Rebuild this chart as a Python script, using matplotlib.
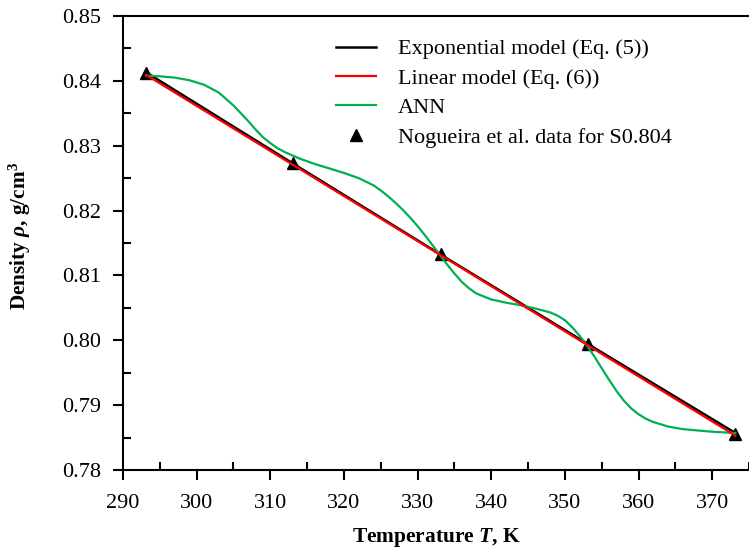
import matplotlib
matplotlib.use("Agg")
import matplotlib.pyplot as plt
from matplotlib.ticker import MultipleLocator, FormatStrFormatter

plt.rcParams['font.family'] = ['Liberation Serif', 'DejaVu Serif']
plt.rcParams['mathtext.fontset'] = 'custom'
plt.rcParams['mathtext.rm'] = 'Liberation Serif:bold'
plt.rcParams['mathtext.it'] = 'Liberation Serif:italic:bold'
plt.rcParams['mathtext.bf'] = 'Liberation Serif:bold'

# Data
temps = [293.15, 313.15, 333.15, 353.15, 373.15]
nogueira = [0.8412, 0.8273, 0.8133, 0.7995, 0.7856]
exp_model = [0.8413, 0.8272, 0.8132, 0.7994, 0.7857]
lin_T = [293.15, 373.15]
lin_model = [0.8409, 0.7853]
ann_T = [293.15, 295, 297, 299, 301, 303, 305, 307, 308, 309, 310, 311, 312,
         313, 314, 316, 318, 320, 322, 324, 325, 326, 327, 328, 329, 330, 331,
         332, 333, 334, 335, 336, 337, 338, 340, 342, 344, 346, 348, 349, 350,
         351, 352, 353, 354, 355, 356, 357, 358, 359, 360, 361, 362, 364, 366,
         368, 370, 373.15]
ann_rho = [0.8408, 0.8407, 0.8405, 0.8401, 0.8394, 0.8382, 0.8362, 0.8338,
           0.8325, 0.8313, 0.8304, 0.8296, 0.8290, 0.8285, 0.8280, 0.8272,
           0.8265, 0.8258, 0.8250, 0.8239, 0.8231, 0.8222, 0.8212, 0.8201,
           0.8189, 0.8176, 0.8162, 0.8147, 0.8132, 0.8117, 0.8103, 0.8090,
           0.8080, 0.8072, 0.8063, 0.8058, 0.8054, 0.8049, 0.8043, 0.8038,
           0.8031, 0.8020, 0.8007, 0.7992, 0.7975, 0.7957, 0.7939, 0.7922,
           0.7907, 0.7895, 0.7886, 0.7879, 0.7874, 0.7867, 0.7863, 0.7861,
           0.7859, 0.7857]

fig = plt.figure(figsize=(7.49, 5.53), dpi=100)
ax = fig.add_axes([0.1642, 0.1501, 0.8358, 0.8210])

ax.plot(temps, nogueira, linestyle='none', marker='^', color='black',
        markersize=9, label='Nogueira et al. data for S0.804', zorder=2)
ax.plot(temps, exp_model, color='black', lw=1.8, label='Exponential model (Eq. (5))', zorder=3)
ax.plot(ann_T, ann_rho, color='#00B050', lw=1.6, label='ANN', zorder=4)
ax.plot(lin_T, lin_model, color='#FF0000', lw=1.6, label='Linear model (Eq. (6))', zorder=5)

handles, labels = ax.get_legend_handles_labels()
order = [1, 3, 2, 0]
ax.legend([handles[i] for i in order], [labels[i] for i in order],
          loc='upper left', bbox_to_anchor=(0.4219, 0.966),
          bbox_transform=fig.transFigure, frameon=False,
          fontsize=16, handlelength=1.8, handletextpad=1.0, labelspacing=0.4)

ax.set_xlim(290, 375)
ax.set_ylim(0.78, 0.85)
ax.xaxis.set_major_locator(MultipleLocator(10))
ax.xaxis.set_minor_locator(MultipleLocator(5))
ax.yaxis.set_major_locator(MultipleLocator(0.01))
ax.yaxis.set_minor_locator(MultipleLocator(0.005))
ax.yaxis.set_major_formatter(FormatStrFormatter('%.2f'))

ax.tick_params(which='major', direction='out', length=7, width=1.5, labelsize=16)
ax.tick_params(which='minor', direction='in', length=6, width=1.5)
ax.tick_params(axis='y', which='major', pad=9)
ax.tick_params(axis='x', which='major', pad=10)

for s in ['left', 'bottom', 'top']:
    ax.spines[s].set_linewidth(1.5)
ax.spines['right'].set_visible(False)

ax.set_xlabel(r'Temperature $T$, K', fontsize=15.4, fontweight='bold', labelpad=10)
ax.set_ylabel(r'Density $\rho$, g/cm$^3$', fontsize=15.3, fontweight='bold')
ax.yaxis.set_label_coords(-0.143, 0.515)

fig.savefig('out.png', dpi=100)
